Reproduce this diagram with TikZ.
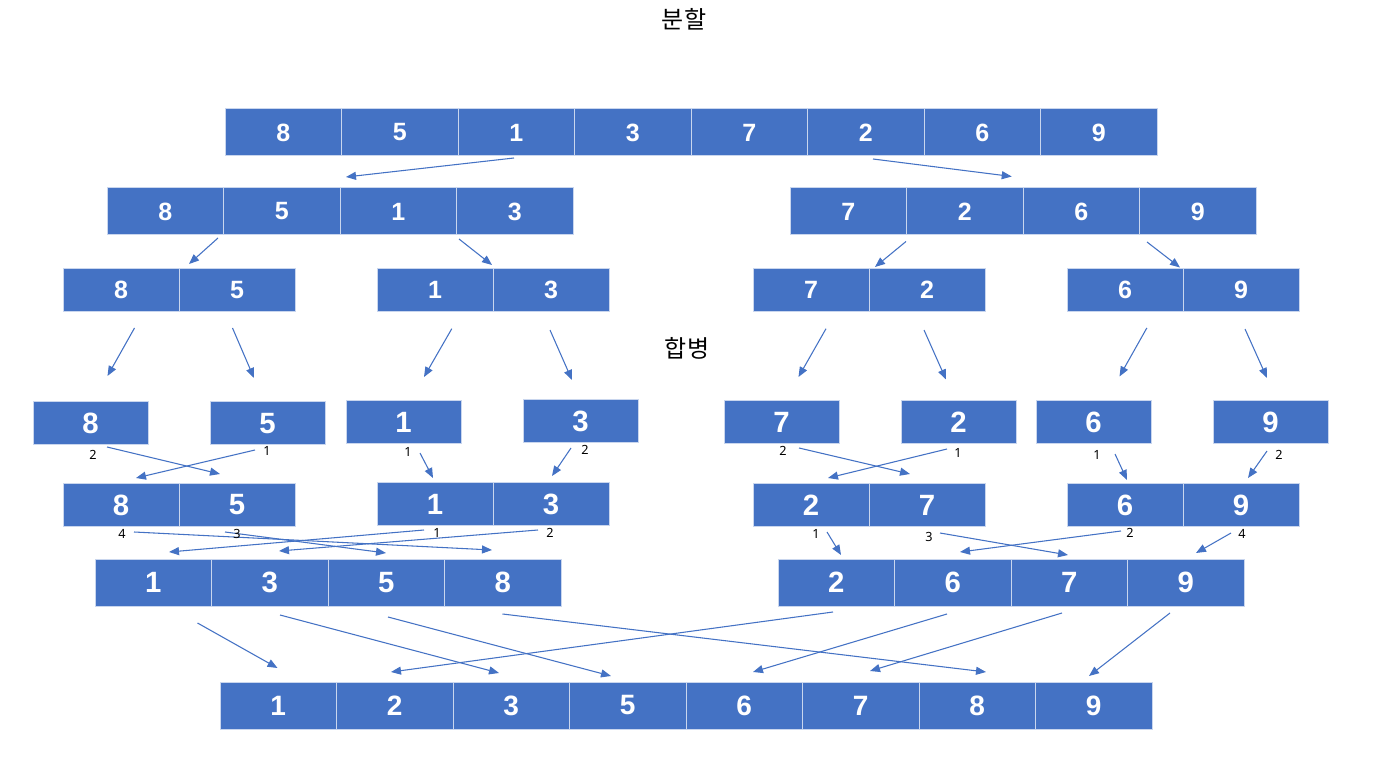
\documentclass[tikz,border=0pt]{standalone}
\usepackage{fontspec}
\setmainfont{Noto Sans}
\newfontfamily\digfont{Liberation Sans}
\newfontfamily\krfont{Noto Sans CJK KR}
\usetikzlibrary{calc,arrows.meta}
\definecolor{cellblue}{HTML}{4472C4}
\definecolor{celledge}{HTML}{C9D6EE}
\begin{document}
\begin{tikzpicture}[x=0.75pt,y=-0.75pt,
  cellbase/.style={rectangle,fill=cellblue,draw=celledge,line width=0.75pt,inner sep=0pt,text=white},
  cellL/.style={cellbase,minimum width=87.375pt,minimum height=35.25pt,font=\digfont\bfseries\fontsize{18.75pt}{20pt}\selectfont},
  cellM/.style={cellbase,minimum width=87pt,minimum height=32.25pt,font=\digfont\bfseries\fontsize{18.75pt}{20pt}\selectfont},
  cellS/.style={cellbase,minimum width=86.25pt,minimum height=32.25pt,font=\digfont\bfseries\fontsize{22pt}{24pt}\selectfont},
  cellP/.style={cellbase,minimum width=87pt,minimum height=32.25pt,font=\digfont\bfseries\fontsize{22pt}{24pt}\selectfont},
  cellQ/.style={cellbase,minimum width=87.375pt,minimum height=35.25pt,font=\digfont\bfseries\fontsize{22pt}{24pt}\selectfont},
  cellF/.style={cellbase,minimum width=87.375pt,minimum height=35.25pt,font=\digfont\bfseries\fontsize{21pt}{23pt}\selectfont},
  arr/.style={draw=cellblue,line width=0.8pt,-{Triangle[length=7.5pt,width=6pt]}},
  idx/.style={font=\fontsize{9.5pt}{10pt}\selectfont,text=black,inner sep=0pt},
  heading/.style={font=\krfont\fontsize{18pt}{20pt}\selectfont,text=black,inner sep=0pt}]
\useasboundingbox (0,0) rectangle (1378,766);

% titles
\node[heading] (t1) at (684,19) {분할};
\node[heading] (t2) at (687,348) {합병};

% row 1
\foreach \v [count=\i] in {8,5,1,3,7,2,6,9}
  \node[cellL] (a\i) at ({283.25+116.5*(\i-1)},132.5) {\v};
% row 2
\foreach \x/\v [count=\i] in {165.25/8,281.75/5,398.25/1,514.75/3,848.25/7,964.75/2,1081.25/6,1197.75/9}
  \node[cellL] (b\i) at (\x,211.5) {\v};
% row 3
\foreach \x/\v [count=\i] in {121/8,237/5,435/1,551/3,811/7,927/2,1125/6,1241/9}
  \node[cellM] (c\i) at (\x,290) {\v};
% row 4 (singles)
\foreach \x/\y/\v [count=\i] in {90.5/423.5/8,267.5/423.5/5,403.5/422.5/1,580.5/421.5/3,781.5/422/7,958.5/422/2,1093.5/422/6,1270.5/422/9}
  \node[cellS] (d\i) at (\x,\y) {\v};
% row 5
\foreach \x/\y/\v [count=\i] in {121/505/8,237/505/5,435/504/1,551/504/3,811/505/2,927/505/7,1125/505/6,1241/505/9}
  \node[cellP] (e\i) at (\x,\y) {\v};
% row 6
\foreach \x/\v [count=\i] in {153.25/1,269.75/3,386.25/5,502.75/8,836.25/2,952.75/6,1069.25/7,1185.75/9}
  \node[cellQ] (f\i) at (\x,582.5) {\v};
% row 7
\foreach \v [count=\i] in {1,2,3,5,6,7,8,9}
  \node[cellF] (g\i) at ({278.25+116.5*(\i-1)},705.5) {\v};

% split 1
\draw[arr] ($(a3)+(-2.25,25.5)$) -- ($(b2)+(64.25,-34.5)$);
\draw[arr] ($(a6)+(7.25,26.5)$) -- ($(b6)+(47,-35)$);
% split 2
\draw[arr] ($(b2)+(-63.75,26.5)$) -- ($(c1)+(68,-26)$);
\draw[arr] ($(b4)+(-55.75,27.5)$) -- ($(c3)+(57,-25)$);
\draw[arr] ($(b6)+(-58.75,30)$) -- ($(c5)+(64,-23)$);
\draw[arr] ($(b8)+(-50.75,30.5)$) -- ($(c7)+(55,-22.5)$);
% split 3
\draw[arr] ($(c1)+(13.5,38)$) -- ($(d1)+(17,-47.5)$);
\draw[arr] ($(c2)+(-4.5,38)$) -- ($(d2)+(-13.5,-45.5)$);
\draw[arr] ($(c3)+(16.8,38.7)$) -- ($(d3)+(20.5,-45.5)$);
\draw[arr] ($(c4)+(-1,40)$) -- ($(d4)+(-8.5,-41.5)$);
\draw[arr] ($(c5)+(15,38.7)$) -- ($(d5)+(17,-45)$);
\draw[arr] ($(c6)+(-3,40)$) -- ($(d6)+(-12.5,-42.5)$);
\draw[arr] ($(c7)+(21.8,38)$) -- ($(d7)+(26,-45.5)$);
\draw[arr] ($(c8)+(4,39)$) -- ($(d8)+(-3.5,-44)$);
% merge 1
\draw[arr] ($(d1)+(16.5,23.5)$) -- ($(e2)+(-17,-31)$);
\draw[arr] ($(d2)+(-12.5,26.5)$) -- ($(e1)+(15,-27)$);
\draw[arr] ($(d3)+(16.5,30.5)$) -- ($(e3)+(-2,-26)$);
\draw[arr] ($(d4)+(-9.5,26.5)$) -- ($(e4)+(1,-28)$);
\draw[arr] ($(d5)+(17.5,26)$) -- ($(e6)+(-17,-31)$);
\draw[arr] ($(d6)+(-11.5,27)$) -- ($(e5)+(17,-27)$);
\draw[arr] ($(d7)+(21.5,32)$) -- ($(e7)+(2,-25)$);
\draw[arr] ($(d8)+(-3.5,29)$) -- ($(e8)+(7,-27)$);
\node[idx] (l1) at (93,455) {2};
\node[idx] (l2) at (267,451) {1};
\node[idx] (l3) at (408,452) {1};
\node[idx] (l4) at (585,450) {2};
\node[idx] (l5) at (783,451) {2};
\node[idx] (l6) at (958,453) {1};
\node[idx] (l7) at (1097,455) {1};
\node[idx] (l8) at (1279,455) {2};
% merge 2
\draw[arr] ($(e1)+(13,27)$) -- ($(f4)+(-10.75,-32.5)$);
\draw[arr] ($(e2)+(-12,27)$) -- ($(f3)+(-0.25,-29.5)$);
\draw[arr] ($(e3)+(-11,26)$) -- ($(f1)+(15.75,-30.5)$);
\draw[arr] ($(e4)+(-13,26)$) -- ($(f2)+(9.25,-31.5)$);
\draw[arr] ($(e5)+(16,27)$) -- ($(f5)+(4.75,-27.5)$);
\draw[arr] ($(e6)+(13,28)$) -- ($(f7)+(-1.25,-27.5)$);
\draw[arr] ($(e7)+(-4,26)$) -- ($(f6)+(7.25,-30.5)$);
\draw[arr] ($(e8)+(-10,28)$) -- ($(f8)+(10.25,-29.5)$);
\node[idx] (m1) at (122,534) {4};
\node[idx] (m2) at (237,534) {3};
\node[idx] (m3) at (437,533) {1};
\node[idx] (m4) at (550,533) {2};
\node[idx] (m5) at (816,534) {1};
\node[idx] (m6) at (929,537) {3};
\node[idx] (m7) at (1130,533) {2};
\node[idx] (m8) at (1242,534) {4};
% merge 3
\draw[arr] ($(f1)+(44.25,40.5)$) -- ($(g1)+(-0.75,-37.5)$);
\draw[arr] ($(f2)+(10.25,32.5)$) -- ($(g3)+(-12.25,-32.5)$);
\draw[arr] ($(f3)+(1.75,34.5)$) -- ($(g4)+(-16.75,-29.5)$);
\draw[arr] ($(f4)+(-0.25,31.5)$) -- ($(g7)+(8.75,-33.5)$);
\draw[arr] ($(f5)+(-3.25,29.5)$) -- ($(g2)+(-3.75,-33.5)$);
\draw[arr] ($(f6)+(-5.75,31.5)$) -- ($(g5)+(8.75,-33.5)$);
\draw[arr] ($(f7)+(-7.25,30.5)$) -- ($(g6)+(9.25,-34.5)$);
\draw[arr] ($(f8)+(-15.75,30.5)$) -- ($(g8)+(-4.75,-29.5)$);
\end{tikzpicture}
\end{document}
